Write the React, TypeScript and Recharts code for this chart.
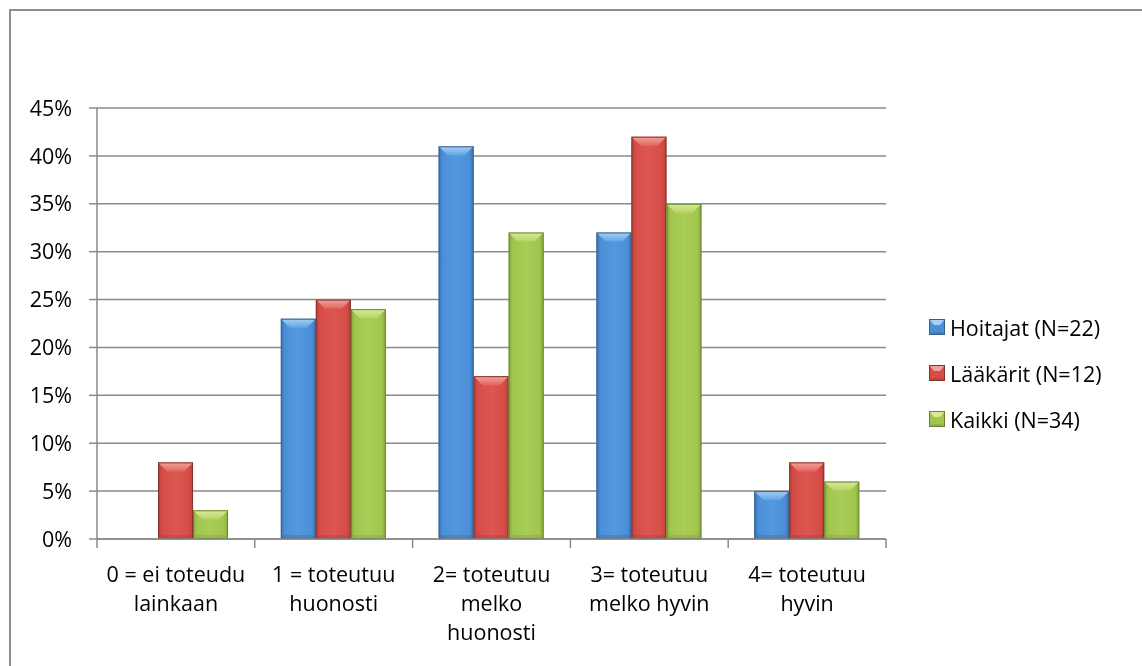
import React from "react";
import { BarChart, Bar, XAxis, YAxis, CartesianGrid } from "recharts";

// Category labels (line breaks mark where each label wraps)
const categories = [
  "0 = ei toteudu\nlainkaan",
  "1 = toteutuu\nhuonosti",
  "2= toteutuu\nmelko\nhuonosti",
  "3= toteutuu\nmelko hyvin",
  "4= toteutuu\nhyvin",
];

// Share of respondents per answer, in percent
const hoitajat = [0, 23, 41, 32, 5];
const laakarit = [8, 25, 17, 42, 8];
const kaikki = [3, 24, 32, 35, 6];

const seriesNames = ["Hoitajat (N=22)", "Lääkärit (N=12)", "Kaikki (N=34)"];
const yTicks = [0, 5, 10, 15, 20, 25, 30, 35, 40, 45];

const data = categories.map((c, i) => ({
  category: c,
  hoitajat: hoitajat[i],
  laakarit: laakarit[i],
  kaikki: kaikki[i],
}));

const FONT = "'Open Sans', Calibri, sans-serif";
const FS = 21.5;
const GRID = "#8a8a8a";

type Pal = { edge: string; base: string; mid: string; top: string; topDeep: string; bottom: string; stroke: string };

const PALETTES: Pal[] = [
  { edge: "#3a73b8", base: "#4a8fd8", mid: "#5498de", top: "#a9d0f3", topDeep: "#62a3e4", bottom: "#34689f", stroke: "#3a5f86" },
  { edge: "#b53f3a", base: "#d64d47", mid: "#dc5751", top: "#f0a39c", topDeep: "#e2675f", bottom: "#a83934", stroke: "#87302c" },
  { edge: "#86a83a", base: "#a0c64e", mid: "#a9cd58", top: "#d8eb98", topDeep: "#b6d466", bottom: "#7e9c36", stroke: "#6a8530" },
];
const KEYS = ["hoitajat", "laakarit", "kaikki"];

function BevelBar(props: any) {
  const { x, y, width: w, height: h, pal, gid } = props;
  if (!h || h <= 0) return null;
  const bx = Math.min(9, w / 2);
  const by = Math.min(9, h / 2);
  const bb = Math.min(4, h / 4);
  const hid = `${gid}-h`;
  const tid = `${gid}-t`;
  return (
    <g>
      <defs>
        <linearGradient id={hid} x1="0" y1="0" x2="1" y2="0">
          <stop offset="0" stopColor={pal.edge} />
          <stop offset="0.12" stopColor={pal.base} />
          <stop offset="0.5" stopColor={pal.mid} />
          <stop offset="0.88" stopColor={pal.base} />
          <stop offset="1" stopColor={pal.edge} />
        </linearGradient>
        <linearGradient id={tid} x1="0" y1="0" x2="0" y2="1">
          <stop offset="0" stopColor={pal.top} />
          <stop offset="1" stopColor={pal.topDeep} />
        </linearGradient>
      </defs>
      <rect x={x} y={y} width={w} height={h} fill={`url(#${hid})`} />
      <polygon
        points={`${x},${y} ${x + w},${y} ${x + w - bx},${y + by} ${x + bx},${y + by}`}
        fill={`url(#${tid})`}
      />
      <polygon
        points={`${x},${y + h} ${x + w},${y + h} ${x + w - 3},${y + h - bb} ${x + 3},${y + h - bb}`}
        fill={pal.bottom}
        opacity={0.35}
      />
      <rect x={x + 0.5} y={y + 0.5} width={w - 1} height={h - 1} fill="none" stroke={pal.stroke} strokeWidth={1} />
    </g>
  );
}

// Wrapped category label plus the tick marks between categories
function CategoryTick(props: any) {
  const { x, y, payload, index, visibleTicksCount, width } = props;
  const lines = String(payload.value).split("\n");
  const band = width / visibleTicksCount;
  const left = x - band / 2;
  const right = x + band / 2;
  return (
    <g>
      <line x1={left} y1={y} x2={left} y2={y + 9} stroke={GRID} strokeWidth={1.5} />
      {index === visibleTicksCount - 1 && (
        <line x1={right} y1={y} x2={right} y2={y + 9} stroke={GRID} strokeWidth={1.5} />
      )}
      <text x={x} y={y + 43} textAnchor="middle" fill="#000" fontSize={FS} fontFamily={FONT}>
        {lines.map((l, i) => (
          <tspan key={i} x={x} dy={i === 0 ? 0 : 29}>
            {l}
          </tspan>
        ))}
      </text>
    </g>
  );
}

function LegendIcon({ pal }: { pal: Pal }) {
  return (
    <svg width={16} height={16} style={{ display: "block" }}>
      <rect x={0} y={0} width={16} height={16} fill={pal.base} />
      <polygon points="0,0 16,0 11,6 5,6" fill={pal.top} />
      <polygon points="0,16 16,16 13,13 3,13" fill={pal.bottom} opacity={0.5} />
      <rect x={0.5} y={0.5} width={15} height={15} fill="none" stroke={pal.stroke} strokeWidth={1} />
    </svg>
  );
}

function LegendList() {
  return (
    <div style={{ position: "absolute", left: 921, top: 296, display: "flex", flexDirection: "column" }}>
      {seriesNames.map((n, i) => (
        <div key={n} style={{ display: "flex", alignItems: "center", height: 46 }}>
          <LegendIcon pal={PALETTES[i]} />
          <span style={{ marginLeft: 5, fontSize: FS, fontFamily: FONT, color: "#000", whiteSpace: "nowrap" }}>{n}</span>
        </div>
      ))}
    </div>
  );
}

export default function App() {
  return (
    <div style={{ position: "relative", width: 1126, height: 650 }}>
      {/* chart frame: its right and bottom sides fall outside the page */}
      <div
        style={{
          position: "fixed",
          left: 9,
          top: 9,
          right: -10,
          bottom: -10,
          borderTop: "2px solid #8e8e8e",
          borderLeft: "2px solid #8e8e8e",
          pointerEvents: "none",
        }}
      />
      <BarChart
        width={1126}
        height={650}
        data={data}
        margin={{ top: 100, right: 248, bottom: 9, left: 0 }}
        barCategoryGap="16.5%"
        barGap={0}
        style={{ position: "absolute", left: 0, top: 0 }}
      >
        <CartesianGrid horizontal vertical={false} stroke={GRID} strokeWidth={1.5} />
        <XAxis
          dataKey="category"
          interval={0}
          tickLine={false}
          tickSize={0}
          tickMargin={0}
          height={110}
          axisLine={{ stroke: GRID, strokeWidth: 1.5 }}
          tick={<CategoryTick />}
        />
        <YAxis
          domain={[0, 45]}
          ticks={yTicks}
          width={89}
          tickSize={8}
          tickMargin={17}
          tickFormatter={(v: number) => `${v}%`}
          axisLine={{ stroke: GRID, strokeWidth: 1.5 }}
          tickLine={{ stroke: GRID, strokeWidth: 1.5 }}
          tick={{ fill: "#000", fontSize: FS, fontFamily: FONT }}
        />
        {KEYS.map((k, i) => (
          <Bar
            key={k}
            dataKey={k}
            name={seriesNames[i]}
            isAnimationActive={false}
            shape={(p: any) => <BevelBar {...p} pal={PALETTES[i]} gid={`g-${k}-${p.index}`} />}
          />
        ))}
      </BarChart>
      <LegendList />
    </div>
  );
}
